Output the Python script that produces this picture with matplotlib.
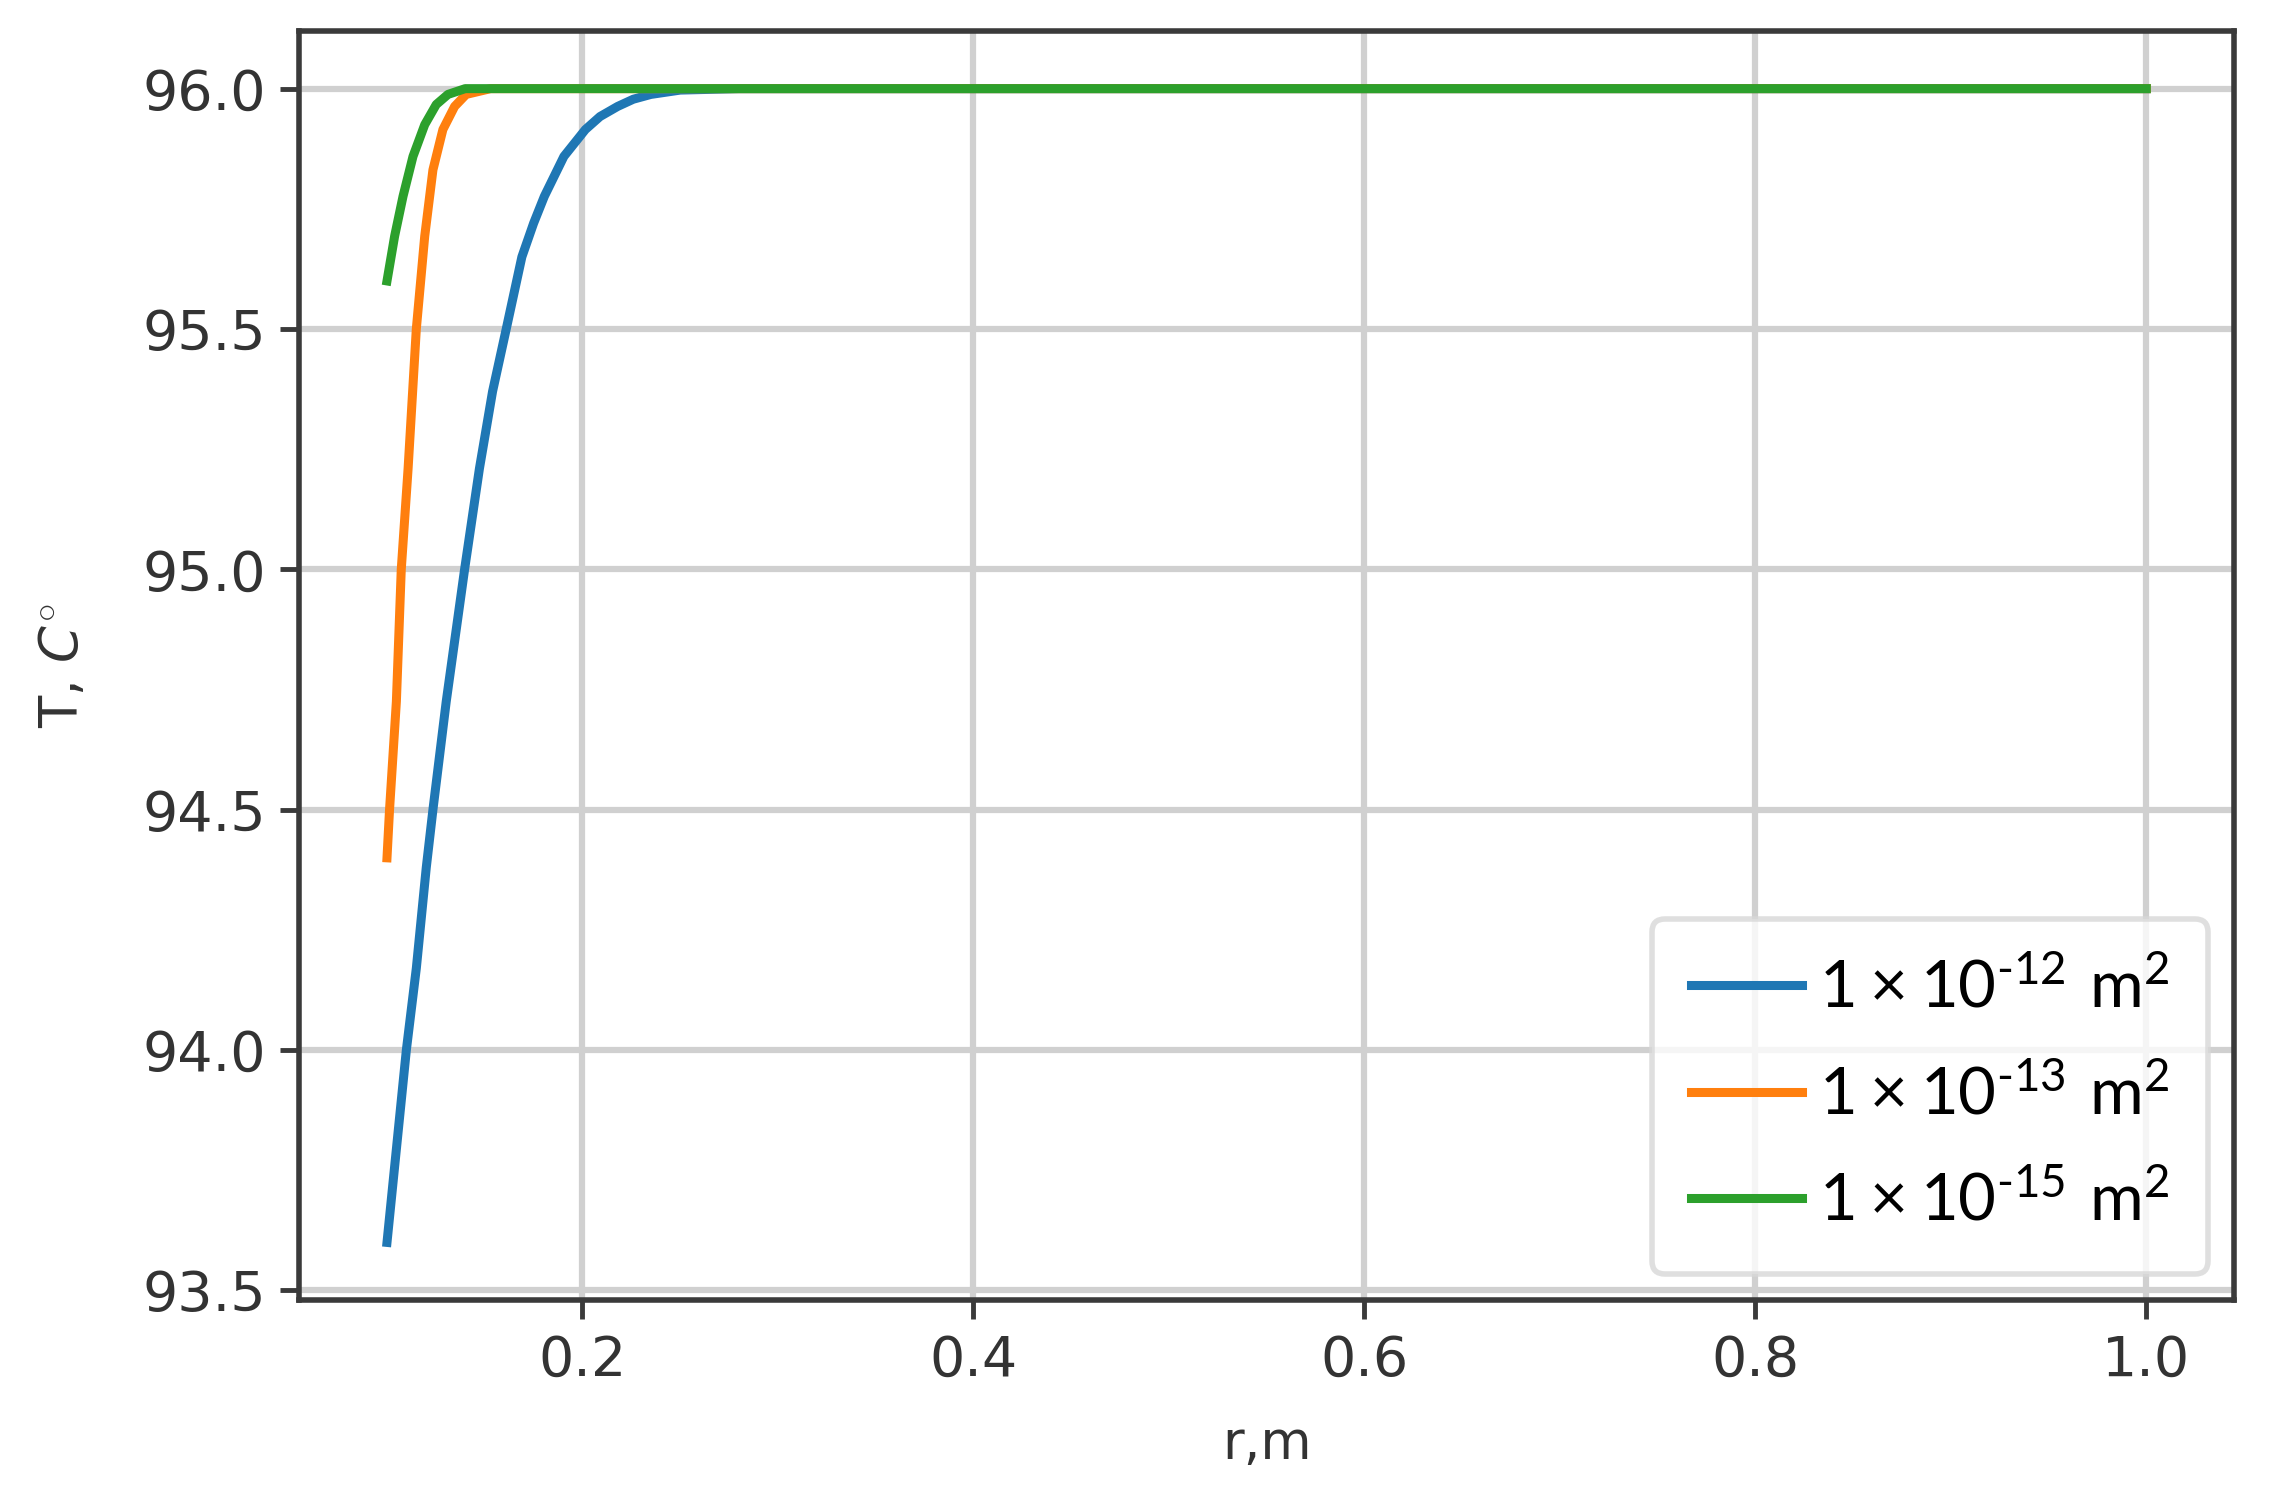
import matplotlib
matplotlib.use('Agg')
import matplotlib.pyplot as plt

plt.rcParams['font.family'] = ['DejaVu Sans']
plt.rcParams['mathtext.fontset'] = 'custom'
plt.rcParams['mathtext.rm'] = 'Lato'
plt.rcParams['mathtext.it'] = 'DejaVu Sans:italic'
plt.rcParams['mathtext.bf'] = 'Lato:bold'

# 读图得到的数据 (r in m, T in C)
r_12 = [0.100, 0.1099, 0.1150, 0.1201, 0.1235, 0.1303, 0.1397, 0.1473, 0.1540, 0.1610,
        0.1690, 0.1750, 0.1805, 0.1905, 0.2015, 0.2090, 0.2180, 0.2260, 0.2350, 0.2500,
        0.2800, 0.3500, 1.0]
T_12 = [93.60, 94.00, 94.17, 94.38, 94.50, 94.725, 95.00, 95.21, 95.37, 95.50,
        95.65, 95.72, 95.776, 95.859, 95.915, 95.942, 95.963, 95.978, 95.988, 95.997,
        96.0, 96.0, 96.0]

r_13 = [0.100, 0.1013, 0.1048, 0.1073, 0.1108, 0.1150, 0.1193, 0.1235, 0.1286,
        0.1346, 0.1405, 0.1530, 0.2000, 1.0]
T_13 = [94.40, 94.50, 94.725, 95.00, 95.21, 95.50, 95.693, 95.831, 95.915,
        95.963, 95.988, 96.0, 96.0, 96.0]

r_15 = [0.100, 0.1039, 0.1082, 0.1133, 0.1193, 0.1252, 0.1312, 0.1400, 0.2000, 1.0]
T_15 = [95.60, 95.693, 95.776, 95.859, 95.925, 95.967, 95.988, 96.0, 96.0, 96.0]

labels = [r'$\mathrm{1\times10^{\text{-}12}\ m^2}$',
          r'$\mathrm{1\times10^{\text{-}13}\ m^2}$',
          r'$\mathrm{1\times10^{\text{-}15}\ m^2}$']

fig = plt.figure(figsize=(22.74, 15.1), dpi=100)
ax = fig.add_axes([0.1315, 0.139, 0.851, 0.8405])

ax.plot(r_12, T_12, color='#1f77b4', lw=6.5, label=labels[0])
ax.plot(r_13, T_13, color='#ff7f0e', lw=6.5, label=labels[1])
ax.plot(r_15, T_15, color='#2ca02c', lw=6.5, label=labels[2])

ax.grid(True, color='#d0d0d0', lw=4.5)
ax.set_axisbelow(True)
for s in ax.spines.values():
    s.set_linewidth(4)
    s.set_color('#3a3a3a')
ax.tick_params(labelsize=40, length=14, width=3.5, color='#3a3a3a',
               labelcolor='#333333', pad=10)

ax.set_xlabel('r,m', fontsize=38, color='#333333', labelpad=22)
ax.set_ylabel(r'T, $C^{\circ}$', fontsize=38, color='#333333', labelpad=38)

leg = ax.legend(loc='lower right', fontsize=47, handlelength=1.7,
                borderpad=0.6, labelspacing=0.65, handletextpad=0.25,
                framealpha=0.8, borderaxespad=0.4)
leg.get_frame().set_linewidth(4)
leg.get_frame().set_edgecolor('#d8d8d8')
for line in leg.get_lines():
    line.set_linewidth(6.5)

fig.savefig('out.png', dpi=100)
